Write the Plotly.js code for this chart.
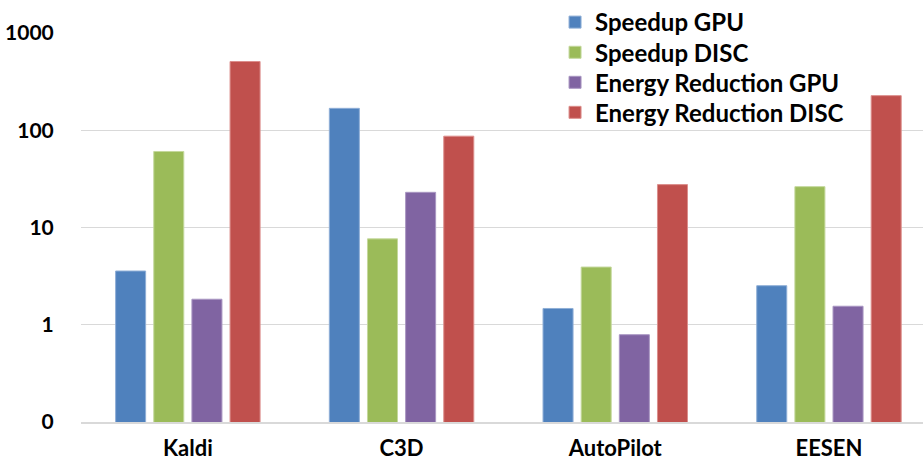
<!DOCTYPE html>
<html>
<head>
<meta charset="utf-8">
<script src="https://cdn.plot.ly/plotly-3.0.1.min.js"></script>
<style>html,body{margin:0;padding:0;background:#fff;}#chart{width:923px;height:464px;}</style>
</head>
<body>
<div id="chart"></div>
<script>
const categories = ['Kaldi', 'C3D', 'AutoPilot', 'EESEN'];
const speedupGPU = [3.57, 168, 1.47, 2.52];
const speedupDISC = [60.5, 7.64, 3.92, 26.3];
const energyGPU = [1.83, 23, 0.79, 1.55];
const energyDISC = [509, 86.9, 27.6, 227];
const tickVals = [0.1, 1, 10, 100, 1000];
const tickText = ['0', '1', '10', '100', '1000'];

const seriesNames = ['Speedup GPU', 'Speedup DISC', 'Energy Reduction GPU', 'Energy Reduction DISC'];
const seriesData = [speedupGPU, speedupDISC, energyGPU, energyDISC];
const colors = ['#4f81bd', '#9bbb59', '#8064a2', '#c0504d'];
const borders = ['#8eaed6', '#c4d89c', '#a996c2', '#dc8e8c'];
const legendIds = ['legend', 'legend2', 'legend3', 'legend4'];
const legendY = [1.026, 0.947, 0.870, 0.793];

const FONT = 'Lato, Carlito, Calibri, sans-serif';

const traces = seriesNames.map((n, i) => ({
  type: 'bar',
  name: n,
  x: categories,
  y: seriesData[i],
  legend: legendIds[i],
  marker: {color: colors[i], line: {color: borders[i], width: 1}},
  hoverinfo: 'x+y+name'
}));

const layout = {
  width: 923,
  height: 464,
  margin: {l: 81, r: 0, t: 32, b: 42, pad: 0},
  paper_bgcolor: '#ffffff',
  plot_bgcolor: '#ffffff',
  barmode: 'group',
  bargap: 0.286,
  bargroupgap: 0.213,
  font: {family: FONT, color: '#000000'},
  xaxis: {
    type: 'category',
    range: [-0.5, 3.44],
    showline: true,
    linecolor: '#d9d9d9',
    linewidth: 2,
    showgrid: false,
    ticks: 'outside',
    ticklen: 6,
    tickcolor: 'rgba(0,0,0,0)',
    tickfont: {family: FONT, size: 22, color: '#000000', weight: 'bold'}
  },
  yaxis: {
    type: 'log',
    range: [-1, 3],
    tickmode: 'array',
    tickvals: tickVals,
    ticktext: tickText,
    showgrid: true,
    gridcolor: '#d9d9d9',
    gridwidth: 1,
    showline: false,
    zeroline: false,
    ticks: 'outside',
    ticklen: 22,
    tickcolor: 'rgba(0,0,0,0)',
    tickfont: {family: FONT, size: 21, color: '#000000', weight: 'bold'}
  },
  showlegend: true
};

legendIds.forEach((id, i) => {
  layout[id] = {
    x: 0.563,
    xanchor: 'left',
    y: legendY[i],
    yanchor: 'middle',
    bgcolor: 'rgba(0,0,0,0)',
    borderwidth: 0,
    font: {family: FONT, size: 24, color: '#000000', weight: 'bold'}
  };
});

Plotly.newPlot('chart', traces, layout, {displayModeBar: false, staticPlot: true});
</script>
</body>
</html>
